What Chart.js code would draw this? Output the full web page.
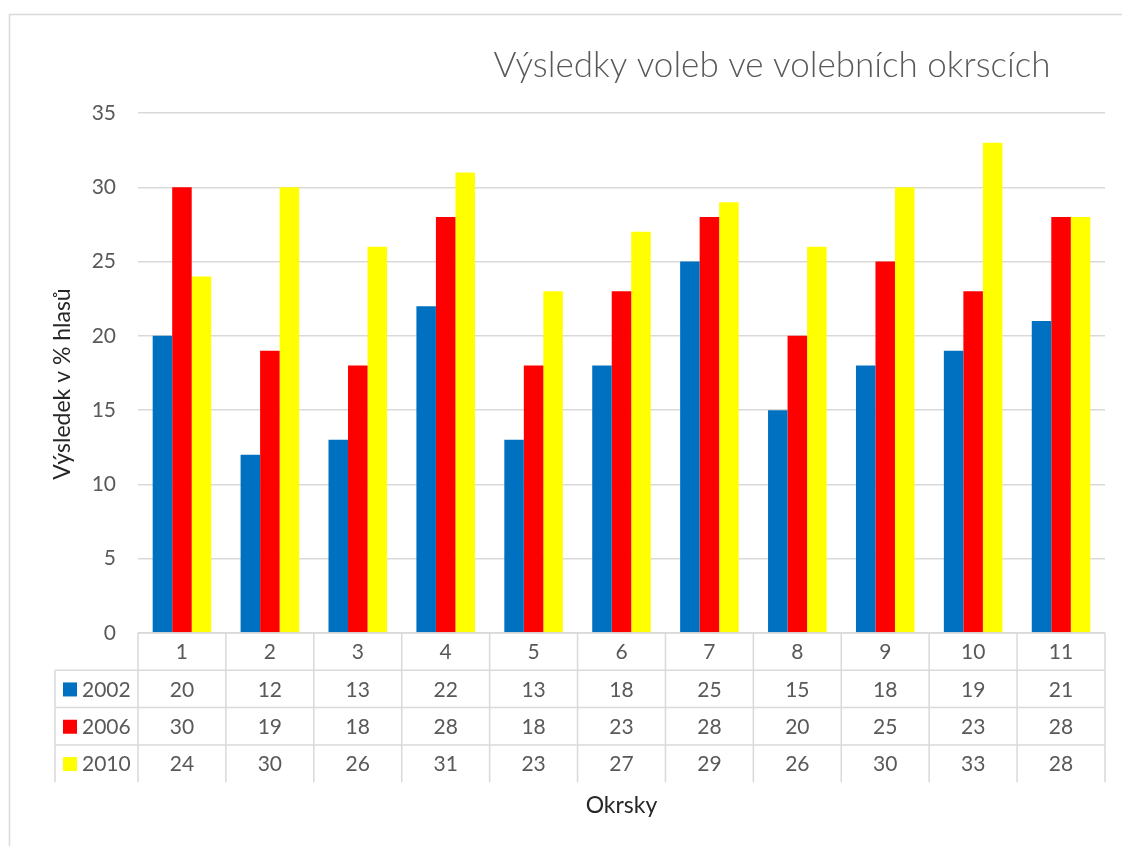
<!DOCTYPE html>
<html><head><meta charset="utf-8">
<script src="https://cdn.jsdelivr.net/npm/chart.js@4/dist/chart.umd.min.js"></script>
<style>html,body{margin:0;padding:0;background:#fff;}#wrap{width:1122px;height:846px;}</style>
</head><body><div id="wrap"><canvas id="c" width="1122" height="846"></canvas></div>
<script>
const categories = ['1','2','3','4','5','6','7','8','9','10','11'];
const seriesNames = ['2002','2006','2010'];
const v2002 = [20,12,13,22,13,18,25,15,18,19,21];
const v2006 = [30,19,18,28,18,23,28,20,25,23,28];
const v2010 = [24,30,26,31,23,27,29,26,30,33,28];
const yTicks = [0,5,10,15,20,25,30,35];
const colors = ['#0070C0','#FF0000','#FFFF00'];
const titleText = 'Výsledky voleb ve volebních okrscích';
const yTitle = 'Výsledek v % hlasů';
const xTitle = 'Okrsky';
const FONT = 'Lato, "Open Sans", sans-serif';
const GRID = '#d9d9d9';
const TXT = '#595959';

const tablePlugin = {
  id: 'tablePlugin',
  beforeDraw(chart) {
    const ctx = chart.ctx;
    ctx.save();
    ctx.fillStyle = '#fff';
    ctx.fillRect(0,0,chart.width,chart.height);
    ctx.strokeStyle = GRID; ctx.lineWidth = 1.5;
    ctx.strokeRect(9.5, 14.5, 1300, 1000);
    ctx.restore();
  },
  afterDraw(chart) {
    const ctx = chart.ctx;
    const xs = chart.scales.x;
    const ca = chart.chartArea;
    const n = categories.length;
    const colW = (ca.right - ca.left) / n;
    const rowH = 37.3;
    const legL = 55;
    const top = ca.bottom;
    const rows = [v2002, v2006, v2010];
    ctx.save();
    ctx.strokeStyle = GRID; ctx.lineWidth = 1.5;
    ctx.beginPath();
    ctx.moveTo(ca.left, top); ctx.lineTo(ca.right, top);
    for (let r = 1; r <= 3; r++) {
      const y = top + rowH * r;
      ctx.moveTo(legL, y); ctx.lineTo(ca.right, y);
    }
    for (let i = 0; i <= n; i++) {
      const x = ca.left + colW * i;
      ctx.moveTo(x, top); ctx.lineTo(x, top + rowH * 4);
    }
    ctx.moveTo(legL, top + rowH); ctx.lineTo(legL, top + rowH * 4);
    ctx.stroke();
    ctx.fillStyle = TXT;
    ctx.font = '21px ' + FONT;
    ctx.textAlign = 'center'; ctx.textBaseline = 'middle';
    categories.forEach((c, i) => {
      const x = xs.getPixelForValue(i);
      ctx.fillText(c, x, top + rowH * 0.5 + 1);
      rows.forEach((arr, r) => {
        ctx.fillText(String(arr[i]), x, top + rowH * (r + 1.5) + 1);
      });
    });
    ctx.textAlign = 'left';
    seriesNames.forEach((s, r) => {
      const yc = top + rowH * (r + 1.5);
      ctx.fillStyle = colors[r];
      ctx.fillRect(63, yc - 6.5, 14, 14);
      ctx.fillStyle = TXT;
      ctx.fillText(s, 82, yc + 1);
    });
    // axis titles
    ctx.fillStyle = '#262626';
    ctx.font = '23px ' + FONT;
    ctx.textAlign = 'center';
    ctx.fillText(xTitle, (ca.left + ca.right) / 2, 806);
    ctx.save();
    ctx.translate(63, 384);
    ctx.rotate(-Math.PI / 2);
    ctx.fillText(yTitle, 0, 0);
    ctx.restore();
    // title
    ctx.fillStyle = TXT;
    ctx.font = '300 35px ' + FONT;
    ctx.textAlign = 'center';
    ctx.fillText(titleText, 772, 66);
    ctx.restore();
  }
};

new Chart(document.getElementById('c'), {
  type: 'bar',
  data: {
    labels: categories,
    datasets: [
      { label: seriesNames[0], data: v2002, backgroundColor: colors[0] },
      { label: seriesNames[1], data: v2006, backgroundColor: colors[1] },
      { label: seriesNames[2], data: v2010, backgroundColor: colors[2] }
    ]
  },
  options: {
    responsive: false,
    animation: false,
    devicePixelRatio: 1,
    layout: { padding: { left: 0, right: 17, top: 113, bottom: 213 } },
    datasets: { bar: { categoryPercentage: 0.666, barPercentage: 1.0 } },
    plugins: { legend: { display: false }, title: { display: false }, tooltip: { enabled: false } },
    scales: {
      x: { display: false },
      y: {
        min: 0, max: 35,
        afterFit(s) { s.width = 138; },
        afterBuildTicks(s) { s.ticks = yTicks.map(v => ({ value: v })); },
        ticks: { color: TXT, font: { family: FONT, size: 21 }, padding: 22 },
        grid: { color: GRID, lineWidth: 1.5, drawTicks: false },
        border: { display: false }
      }
    }
  },
  plugins: [tablePlugin]
});
</script>
</body></html>
